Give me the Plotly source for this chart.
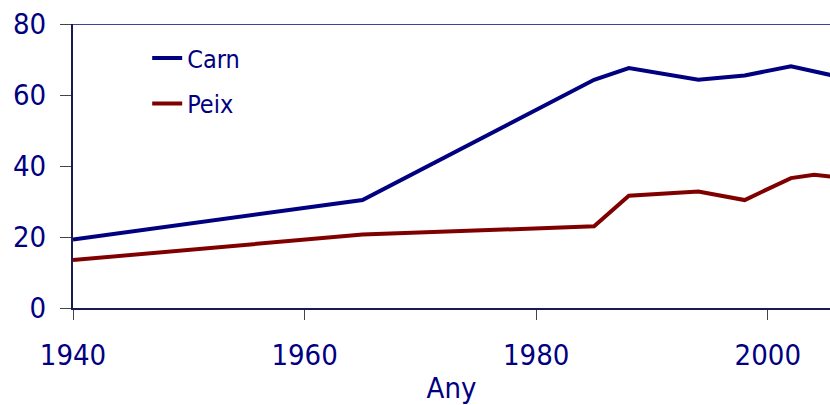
import plotly.graph_objects as go

years = [1940, 1965, 1985, 1988, 1994, 1998, 2002, 2004, 2006]
carn = [19.3, 30.4, 64.3, 67.6, 64.3, 65.5, 68.1, 66.7, 65.2]
peix = [13.5, 20.7, 23.0, 31.6, 32.8, 30.4, 36.6, 37.5, 36.8]
x_ticks = [1940, 1960, 1980, 2000]
y_ticks = [0, 20, 40, 60, 80]

NAVY = "#000080"
MAROON = "#800000"
FONT = "DejaVu Sans Condensed, Tahoma, DejaVu Sans, sans-serif"

fig = go.Figure()
fig.add_trace(go.Scatter(x=years, y=carn, mode="lines", name="Carn",
                         line=dict(color=NAVY, width=4), legendgroup="a"))
fig.add_trace(go.Scatter(x=years, y=peix, mode="lines", name="Peix",
                         line=dict(color=MAROON, width=4), legendgroup="b"))

fig.add_shape(type="line", xref="paper", yref="y", x0=0, x1=1, y0=80, y1=80,
              line=dict(color=NAVY, width=1.5), layer="below")

fig.update_layout(
    width=830, height=405,
    margin=dict(l=73, r=0, t=24, b=97),
    paper_bgcolor="white", plot_bgcolor="white",
    font=dict(family=FONT, color=NAVY, size=29),
    showlegend=True,
    legend=dict(x=0.098, y=0.96, xanchor="left", yanchor="top",
                bgcolor="rgba(0,0,0,0)", font=dict(size=25, color=NAVY),
                tracegroupgap=10, traceorder="grouped"),
    xaxis=dict(range=[1940, 2005.37], tickvals=x_ticks, ticktext=[str(v) for v in x_ticks],
               automargin=False,
               showgrid=False, zeroline=False, showline=True, linecolor="#1a1a50", linewidth=2,
               ticks="outside", ticklen=10, tickcolor="#444444", tickwidth=1,
               ticklabelstandoff=10,
               title=dict(text="Any", standoff=16, font=dict(size=29, color=NAVY))),
    yaxis=dict(range=[0, 80], tickvals=y_ticks, showgrid=False, zeroline=False,
               automargin=False,
               showline=True, linecolor="#1a1a50", linewidth=2,
               ticks="outside", ticklen=11, tickcolor="#444444", tickwidth=1,
               ticklabelstandoff=8),
)

fig.write_html("out.html", config={"displayModeBar": False},
               post_script="document.body.style.margin='0';document.body.style.overflow='hidden';")
